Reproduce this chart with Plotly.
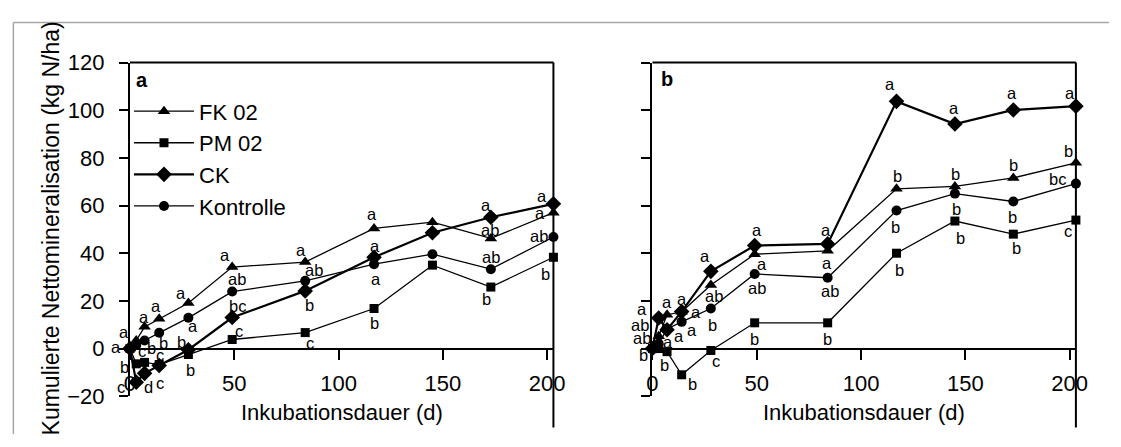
import plotly.graph_objects as go

W, H = 1121, 447
FONT = "Liberation Sans, Arial, sans-serif"

# ---------------- data ----------------
days = [0, 3, 7, 14, 28, 49, 84, 117, 145, 173, 203]
series_names = ["FK 02", "PM 02", "CK", "Kontrolle"]

a_FK = [0, 3.4, 9.1, 12.5, 19.1, 34.2, 36.3, 50.4, 53.0, 46.2, 57.0]
a_PM = [0, -6.4, -5.8, -6.7, -2.5, 3.8, 6.7, 16.8, 35.0, 25.8, 38.3]
a_CK = [0, -14.1, -10.4, -7.1, -0.5, 13.0, 24.2, 38.3, 48.6, 55.1, 60.7]
a_KO = [0, 1.5, 3.4, 6.6, 12.9, 23.9, 28.4, 35.4, 39.6, 33.3, 46.8]

b_FK = [0, 5.2, 14.2, 15.4, 26.7, 39.6, 41.0, 67.0, 68.0, 71.6, 77.9]
b_PM = [0, 0, -1.3, -11.0, -0.8, 10.8, 10.8, 40.0, 53.5, 48.0, 53.9]
b_CK = [0, 12.8, 7.9, 15.5, 32.4, 43.2, 43.9, 103.7, 94.2, 100.1, 101.7]
b_KO = [0, 2.0, 8.2, 11.2, 16.8, 31.3, 29.7, 57.9, 65.0, 61.7, 69.2]

# significance letters
a_FK_sig = [None, "a", "a", "a", "a", "a", "a", "a", None, "ab", "a"]
a_PM_sig = [None, "b", "c", "c", "b", "c", "c", "b", None, "b", "b"]
a_CK_sig = [None, "c", "d", "c", "b", "bc", "b", "a", None, "a", "a"]
a_KO_sig = [None, "a", "b", "b", "a", "ab", "ab", "a", None, "ab", "ab"]

b_FK_sig = [None, "ab", "a", "a", "ab", "a", "a", "b", "b", "b", "b"]
b_PM_sig = [None, "b", "b", "b", "c", "b", "b", "b", "b", "b", "c"]
b_CK_sig = [None, "a", "a", "a", "a", "a", "a", "a", "a", "a", "a"]
b_KO_sig = [None, "ab", "a", "a", "b", "ab", "ab", "b", "b", "b", "bc"]

x_ticks = [0, 50, 100, 150, 200]
y_ticks = [-20, 0, 20, 40, 60, 80, 100, 120]

# ---------------- label placement (pixel offsets, style) ----------------
a_FK_off = [None, (-12, -8), (-1, -10), (-3, -13), (-7, -10), (-7, -12), (-4, -12), (-2, -14), None, (-1, -8), (-13, 0)]
a_PM_off = [None, (-12, 3), (-3, -11), (1, -10), (2, 15), (7, -9), (5, 10), (0, 14), None, (-4, 12), (-8, 17)]
a_CK_off = [None, (-15, 5), (4, 14), (1, 18), (-7, -8), (5, -12), (4, 14), (1, -11), None, (-5, -12), (-11, -8)]
a_KO_off = [None, (-20, 2), (7, 8), (4, 10), (5, 8), (5, -13), (9, -11), (2, 15), None, (0, -12), (-14, -1)]

b_FK_off = [None, (-19, -11), (0, -13), (14, 0), (3, 11), (7, 10), (-1, 12), (1, -13), (1, -12), (0, -13), (-7, -12)]
b_PM_off = [None, (-15, 6), (-3, 13), (11, 9), (5, 11), (0, 16), (0, 16), (3, 17), (6, 17), (3, 14), (-8, 11)]
b_CK_off = [None, (-17, -9), (12, 6), (0, -13), (-6, -15), (2, -16), (-2, -14), (-7, -17), (-1, -16), (-1, -17), (-6, -13)]
b_KO_off = [None, (-17, -6), (1, 13), (10, 8), (2, 16), (2, 14), (2, 13), (-1, 16), (2, 15), (-1, 16), (-18, -5)]

symbols = ["triangle-up", "square", "diamond", "circle"]
msizes = [11, 9, 12, 10]
lwidths = [1.3, 1.3, 2.2, 1.3]

panels = [
    ("x", "y", [a_FK, a_PM, a_CK, a_KO], [a_FK_sig, a_PM_sig, a_CK_sig, a_KO_sig],
     [a_FK_off, a_PM_off, a_CK_off, a_KO_off], True),
    ("x2", "y2", [b_FK, b_PM, b_CK, b_KO], [b_FK_sig, b_PM_sig, b_CK_sig, b_KO_sig],
     [b_FK_off, b_PM_off, b_CK_off, b_KO_off], False),
]

fig = go.Figure()
annotations = []
for xa, ya, vals, sigs, offs, show in panels:
    for i, name in enumerate(series_names):
        fig.add_trace(go.Scatter(
            x=days, y=vals[i], name=name, xaxis=xa, yaxis=ya,
            mode="lines+markers", showlegend=show, cliponaxis=False,
            line=dict(color="black", width=lwidths[i]),
            marker=dict(symbol=symbols[i], size=msizes[i], color="black"),
        ))
        for d, v, s, o in zip(days, vals[i], sigs[i], offs[i]):
            if s is None:
                continue
            annotations.append(dict(
                x=d, y=v, xref=xa, yref=ya, text=s, showarrow=False,
                xanchor="center", yanchor="middle", xshift=o[0], yshift=-o[1],
                font=dict(family=FONT, size=16.5, color="black"),
            ))

def px(x):
    return x / W

def py(y):
    return 1 - y / H

Y_TOP, Y_BOT, Y_ZERO = 53.5, 407.0, 356.5
X_MAX = 203.0
SCALE = 2.12  # px per day
L_DOM = [126, 126 + X_MAX * SCALE]
R_DOM = [657, 657 + X_MAX * SCALE]

axis_common = dict(showgrid=False, zeroline=False, showline=True, linecolor="black",
                   linewidth=2, ticks="outside", tickwidth=2, tickcolor="black",
                   tickfont=dict(family=FONT, size=22, color="black"))

fig.update_layout(
    width=W, height=H, margin=dict(l=0, r=0, t=0, b=0),
    paper_bgcolor="white", plot_bgcolor="rgba(0,0,0,0)",
    font=dict(family=FONT, size=22, color="black"),
    xaxis=dict(domain=[px(L_DOM[0]), px(L_DOM[1])], range=[0, X_MAX], anchor="free",
               position=py(Y_ZERO), tickvals=x_ticks, ticklen=10, ticklabelstandoff=5,
               **axis_common),
    yaxis=dict(domain=[py(Y_BOT), py(Y_TOP)], range=[-20, 120], anchor="x",
               tickvals=y_ticks, ticklen=9, ticklabelstandoff=10, **axis_common),
    xaxis2=dict(domain=[px(R_DOM[0]), px(R_DOM[1])], range=[0, X_MAX], anchor="free",
                position=py(Y_ZERO), tickvals=x_ticks, ticklen=10, ticklabelstandoff=5,
                **axis_common),
    yaxis2=dict(domain=[py(Y_BOT), py(Y_TOP)], range=[-20, 120], anchor="x2",
                tickvals=y_ticks, ticklen=9, showticklabels=False, **axis_common),
    legend=dict(x=px(125), y=py(83), xanchor="left", yanchor="top", itemwidth=60,
                font=dict(family=FONT, size=22, color="black"),
                bgcolor="rgba(0,0,0,0)", tracegroupgap=0),
    showlegend=True,
)

shapes = []
for dom in (L_DOM, R_DOM):
    shapes.append(dict(type="line", xref="paper", yref="paper",
                       x0=px(dom[0]), x1=px(dom[1]), y0=py(Y_TOP), y1=py(Y_TOP),
                       line=dict(color="black", width=2)))
    shapes.append(dict(type="line", xref="paper", yref="paper",
                       x0=px(dom[1]), x1=px(dom[1]), y0=py(Y_TOP), y1=py(440),
                       line=dict(color="black", width=2)))
shapes.append(dict(type="line", xref="paper", yref="paper", x0=px(7.5), x1=px(7.5),
                   y0=py(11), y1=0, line=dict(color="#a6a6a6", width=1.5)))
shapes.append(dict(type="line", xref="paper", yref="paper", x0=px(7.5), x1=1,
                   y0=py(11), y1=py(11), line=dict(color="#a6a6a6", width=1.5)))

annotations += [
    dict(x=px(46), y=py(229), xref="paper", yref="paper", text="Kumulierte Nettomineralisation (kg N/ha)",
         textangle=-90, showarrow=False, xanchor="center", yanchor="middle",
         font=dict(family=FONT, size=23, color="black")),
    dict(x=px((L_DOM[0] + L_DOM[1]) / 2), y=py(424), xref="paper", yref="paper",
         text="Inkubationsdauer (d)", showarrow=False, xanchor="center", yanchor="middle",
         font=dict(family=FONT, size=22, color="black")),
    dict(x=px((R_DOM[0] + R_DOM[1]) / 2), y=py(424), xref="paper", yref="paper",
         text="Inkubationsdauer (d)", showarrow=False, xanchor="center", yanchor="middle",
         font=dict(family=FONT, size=22, color="black")),
    dict(x=px(138), y=py(72), xref="paper", yref="paper", text="<b>a</b>", showarrow=False,
         xanchor="center", yanchor="middle", font=dict(family=FONT, size=20, color="black")),
    dict(x=px(672), y=py(71), xref="paper", yref="paper", text="<b>b</b>", showarrow=False,
         xanchor="center", yanchor="middle", font=dict(family=FONT, size=20, color="black")),
]

fig.update_layout(shapes=shapes, annotations=annotations)
fig.write_html("out.html")
